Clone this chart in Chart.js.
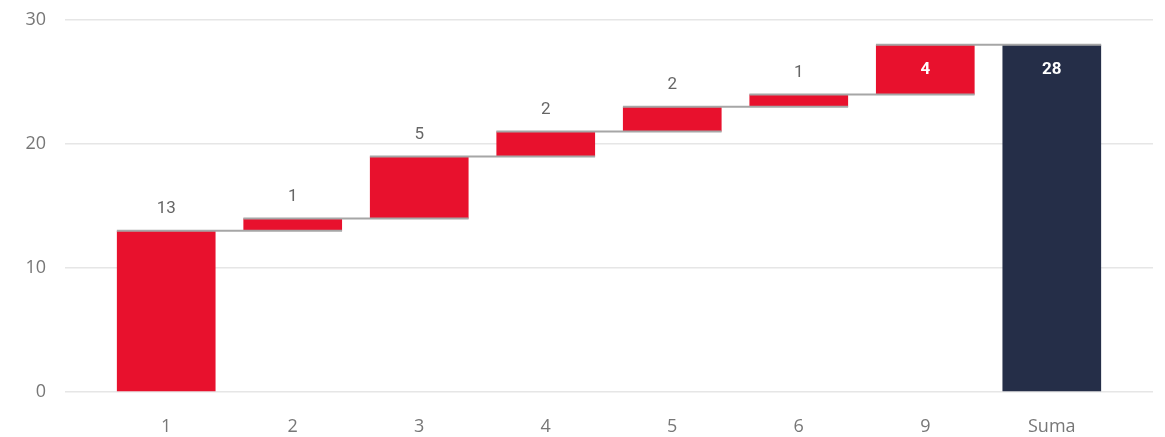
<!DOCTYPE html>
<html><head><meta charset="utf-8">
<script src="https://cdn.jsdelivr.net/npm/chart.js@4"></script>
<style>html,body{margin:0;padding:0;background:#fff}#wrap{width:1165px;height:437px}</style>
</head><body><div id="wrap"><canvas id="c"></canvas></div>
<script>
const categories = ['1','2','3','4','5','6','9','Suma'];
const changes = [13, 1, 5, 2, 2, 1, 4];
const total = 28;
const yTicks = [0, 10, 20, 30];
const insideLabels = [false, false, false, false, false, false, true, true];

const RED = '#E8112D', NAVY = '#252E48';
const BAR_W = 0.78;

// build floating bars
const bars = [];
let cum = 0;
changes.forEach((v, i) => { bars.push({x: i, y: [cum, cum + v]}); cum += v; });
bars.push({x: changes.length, y: [0, total]});
const labelVals = changes.concat([total]);
const colors = changes.map(() => RED).concat([NAVY]);

// connector lines: level after bar i, from bar i left edge to bar i+1 right edge
const conn = [];
cum = 0;
changes.forEach((v, i) => {
  cum += v;
  conn.push({x: i - BAR_W/2, y: cum}, {x: i + 1 + BAR_W/2, y: cum}, {x: i + 1, y: null});
});

const labelPlugin = {
  id: 'lbl',
  afterDatasetsDraw(chart) {
    const ctx = chart.ctx;
    const meta = chart.getDatasetMeta(0);
    meta.data.forEach((el, i) => {
      const top = Math.min(el.y, el.base);
      ctx.save();
      ctx.textAlign = 'center';
      ctx.textBaseline = 'middle';
      if (insideLabels[i]) {
        ctx.fillStyle = '#ffffff';
        ctx.font = 'bold 17px Roboto, "DejaVu Sans", sans-serif';
        ctx.fillText(String(labelVals[i]), el.x, top + 25);
      } else {
        ctx.fillStyle = '#666666';
        ctx.font = '17px Roboto, "DejaVu Sans", sans-serif';
        ctx.fillText(String(labelVals[i]), el.x, top - 22);
      }
      ctx.restore();
    });
  }
};

new Chart(document.getElementById('c'), {
  data: {
    datasets: [
      {type: 'bar', data: bars, backgroundColor: colors, borderWidth: 0,
       barPercentage: BAR_W, categoryPercentage: 1, order: 2},
      {type: 'line', data: conn, borderColor: '#a6a6a6', borderWidth: 2,
       pointRadius: 0, spanGaps: false, order: 1}
    ]
  },
  options: {
    responsive: true, maintainAspectRatio: false, animation: false,
    layout: {padding: {top: 20, right: 12, left: 0, bottom: 0}},
    plugins: {legend: {display: false}, tooltip: {enabled: false}},
    scales: {
      x: {
        type: 'linear', min: -0.8, max: 7.8, offset: false,
        grid: {display: false, drawTicks: false, offset: false}, border: {display: false},
        afterBuildTicks: ax => { ax.ticks = categories.map((_, i) => ({value: i})); },
        afterFit: ax => { ax.height = 45; },
        ticks: {
          autoSkip: false, maxRotation: 0, padding: 24,
          color: '#777777', font: {family: '"Open Sans", "Noto Sans", sans-serif', size: 18},
          callback: v => categories[v]
        }
      },
      y: {
        min: 0, max: 30,
        afterBuildTicks: ax => { ax.ticks = yTicks.map(v => ({value: v})); },
        afterFit: ax => { ax.width = 65; ax.paddingTop = 0; },
        grid: {color: '#e6e6e6', lineWidth: 1.5, drawTicks: false},
        border: {display: false},
        ticks: {padding: 19, color: '#777777', font: {family: '"Open Sans", "Noto Sans", sans-serif', size: 18}}
      }
    }
  },
  plugins: [labelPlugin]
});
</script></body></html>
